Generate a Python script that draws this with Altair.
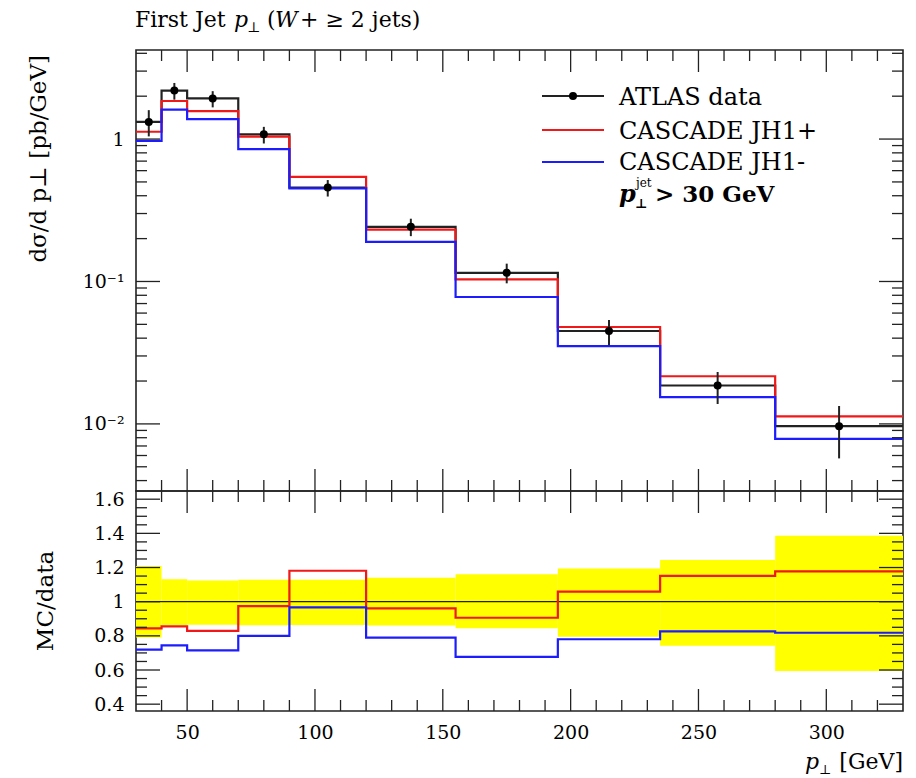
import altair as alt
import pandas as pd

# ---------------- data ----------------
edges = [30, 40, 50, 70, 90, 120, 155, 195, 235, 280, 330]
atlas = [1.32, 2.19, 1.93, 1.08, 0.457, 0.242, 0.115, 0.0449, 0.0186, 0.00964]
jh1_plus = [1.125, 1.85, 1.57, 1.04, 0.543, 0.231, 0.1036, 0.0479, 0.0216, 0.0113]
jh1_minus = [0.97, 1.61, 1.38, 0.85, 0.45, 0.19, 0.0778, 0.0352, 0.0154, 0.00784]
ratio_plus = [0.844, 0.856, 0.829, 0.974, 1.181, 0.961, 0.906, 1.059, 1.151, 1.177]
ratio_minus = [0.719, 0.744, 0.715, 0.80, 0.967, 0.79, 0.677, 0.78, 0.826, 0.818]
band_up = [1.209, 1.131, 1.124, 1.128, 1.128, 1.14, 1.16, 1.195, 1.244, 1.386]
band_down = [0.791, 0.863, 0.865, 0.862, 0.864, 0.86, 0.844, 0.795, 0.742, 0.594]

x_major = [50, 100, 150, 200, 250, 300]
x_minor = [v for v in range(40, 330, 10) if v % 50]
y_up_major = [0.01, 0.1, 1]
y_up_minor = [m * 10.0 ** e for e in (-3, -2, -1, 0) for m in range(2, 10)
              if 0.0034 < m * 10.0 ** e < 4.2]
y_lo_major = [0.4, 0.6, 0.8, 1, 1.2, 1.4, 1.6]
y_lo_minor = [round(0.4 + 0.05 * i, 2) for i in range(25) if i % 4]

# ---------------- layout / style ----------------
W, H1, H2 = 767, 441, 220
FONT = "DejaVu Serif"
INK = "#222222"
RED = "#f01818"
BLUE = "#1c1cff"
YELLOW = "#ffff00"

xs = alt.Scale(domain=[30, 330], nice=False, zero=False)
ys_up = alt.Scale(type="log", domain=[0.00338, 4.22], nice=False)
ys_lo = alt.Scale(domain=[0.36, 1.648], nice=False, zero=False)

up_y_axis = alt.Axis(values=y_up_major, ticks=False, domain=False, grid=False, title=None,
                     labelExpr="datum.value > 0.5 ? '1' : (datum.value > 0.05 ? '10⁻¹' : '10⁻²')",
                     labelOverlap=False, labelFlush=False,
                     labelPadding=12, labelFont=FONT, labelFontSize=19, labelColor="black")
lo_y_axis = alt.Axis(values=y_lo_major, ticks=False, domain=False, grid=False, title=None,
                     labelExpr="datum.value == 1 ? '1' : format(datum.value, '.1f')",
                     labelOverlap=False, labelFlush=False,
                     labelPadding=12, labelFont=FONT, labelFontSize=19, labelColor="black")
lo_x_axis = alt.Axis(values=x_major, ticks=False, domain=False, grid=False, title=None,
                     format="d", labelOverlap=False, labelFlush=False,
                     labelPadding=12, labelFont=FONT, labelFontSize=19, labelColor="black")

one = pd.DataFrame({"k": [0]})
lo_e = edges[:-1]
hi_e = edges[1:]


def step_frame(vals):
    return pd.DataFrame({"x": edges, "y": list(vals) + [vals[-1]]})


def step_line(vals, color, yscale, yaxis, xaxis, width=2.2):
    return alt.Chart(step_frame(vals)).mark_line(
        interpolate="step-after", color=color, strokeWidth=width
    ).encode(
        x=alt.X("x:Q", scale=xs, axis=xaxis),
        y=alt.Y("y:Q", scale=yscale, axis=yaxis),
    )


def label(txt, x, y, size=24, align="left", baseline="alphabetic", style="normal",
          weight="normal", angle=0, color="black"):
    return alt.Chart(one).mark_text(
        text=txt, align=align, baseline=baseline, font=FONT, fontSize=size,
        fontStyle=style, fontWeight=weight, angle=angle, color=color
    ).encode(x=alt.value(x), y=alt.value(y))


def ticks(H, yscale, yaxis, xaxis, ymaj, ymin):
    layers = []
    for vals, ln in ((x_major, 22), (x_minor, 11)):
        base = alt.Chart(pd.DataFrame({"v": vals}))
        layers.append(base.mark_rule(color=INK, strokeWidth=1.3).encode(
            x=alt.X("v:Q", scale=xs, axis=xaxis), y=alt.value(0), y2=alt.value(ln)))
        layers.append(base.mark_rule(color=INK, strokeWidth=1.3).encode(
            x=alt.X("v:Q", scale=xs, axis=xaxis), y=alt.value(H), y2=alt.value(H - ln)))
    for vals, ln in ((ymaj, 24), (ymin, 11)):
        base = alt.Chart(pd.DataFrame({"v": vals}))
        layers.append(base.mark_rule(color=INK, strokeWidth=1.3).encode(
            y=alt.Y("v:Q", scale=yscale, axis=yaxis), x=alt.value(0), x2=alt.value(ln)))
        layers.append(base.mark_rule(color=INK, strokeWidth=1.3).encode(
            y=alt.Y("v:Q", scale=yscale, axis=yaxis), x=alt.value(W), x2=alt.value(W - ln)))
    return layers


# ---------------- upper panel ----------------
pts = pd.DataFrame({
    "c": [(a + b) / 2 for a, b in zip(lo_e, hi_e)],
    "v": atlas,
    "lo": [v * d for v, d in zip(atlas, band_down)],
    "hi": [v * u for v, u in zip(atlas, band_up)],
})

anchor = alt.Chart(one).mark_rule(color="white", strokeWidth=1).encode(
    x=alt.value(-134), x2=alt.value(-133), y=alt.value(-48))

black_h = step_line(atlas, INK, ys_up, up_y_axis, None)
red_h = step_line(jh1_plus, RED, ys_up, up_y_axis, None)
blue_h = step_line(jh1_minus, BLUE, ys_up, up_y_axis, None)
errs = alt.Chart(pts).mark_rule(color=INK, strokeWidth=2).encode(
    x=alt.X("c:Q", scale=xs, axis=None),
    y=alt.Y("lo:Q", scale=ys_up, axis=up_y_axis), y2="hi:Q")
dots = alt.Chart(pts).mark_circle(color="black", size=64, opacity=1).encode(
    x=alt.X("c:Q", scale=xs, axis=None),
    y=alt.Y("v:Q", scale=ys_up, axis=up_y_axis))

legend = [
    alt.Chart(one).mark_rule(color=INK, strokeWidth=2).encode(
        x=alt.value(406), x2=alt.value(468), y=alt.value(46)),
    alt.Chart(one).mark_circle(color="black", size=64, opacity=1).encode(
        x=alt.value(437), y=alt.value(46)),
    label("ATLAS data", 483, 55),
    alt.Chart(one).mark_rule(color=RED, strokeWidth=2.2).encode(
        x=alt.value(406), x2=alt.value(468), y=alt.value(80)),
    label("CASCADE JH1+", 483, 89),
    alt.Chart(one).mark_rule(color=BLUE, strokeWidth=2.2).encode(
        x=alt.value(406), x2=alt.value(468), y=alt.value(112)),
    label("CASCADE JH1-", 483, 120),
    label("p", 483, 152, size=24, style="italic", weight="bold"),
    label("jet", 500, 137, size=12),
    label("⊥", 499, 158, size=13, weight="bold"),
    label("> 30 GeV", 519, 152, size=23, weight="bold"),
]

titles_up = [
    label("First Jet", -1, -23, size=22),
    label("p", 98, -23, size=22, style="italic"),
    label("⊥", 111, -18, size=14),
    label("(", 131, -23, size=22),
    label("W", 139, -23, size=22, style="italic"),
    label("+ ≥ 2 jets)", 164, -23, size=22),
    label("dσ/d p⊥ [pb/GeV]", -97, 5, size=23, align="right", baseline="middle", angle=270),
]

upper = alt.layer(
    anchor, black_h, red_h, blue_h, errs, dots,
    *ticks(H1, ys_up, up_y_axis, None, y_up_major, y_up_minor),
    *legend, *titles_up,
).properties(width=W, height=H1)

# ---------------- lower (ratio) panel ----------------
band = pd.DataFrame({"lo": lo_e, "hi": hi_e, "dn": band_down, "up": band_up})
band_rect = alt.Chart(band).mark_rect(color=YELLOW, opacity=1).encode(
    x=alt.X("lo:Q", scale=xs, axis=lo_x_axis), x2="hi:Q",
    y=alt.Y("dn:Q", scale=ys_lo, axis=lo_y_axis), y2="up:Q")
unity = alt.Chart(one).mark_rule(color=INK, strokeWidth=1.3).encode(
    y=alt.YDatum(datum=1, type="quantitative", scale=ys_lo, axis=lo_y_axis),
    x=alt.value(0), x2=alt.value(W))
red_r = step_line(ratio_plus, RED, ys_lo, lo_y_axis, lo_x_axis)
blue_r = step_line(ratio_minus, BLUE, ys_lo, lo_y_axis, lo_x_axis)

titles_lo = [
    label("MC/data", -90, H2 / 2, size=23, align="center", baseline="middle", angle=270),
    label("p", W - 98, 278, size=22, style="italic"),
    label("⊥", W - 84, 283, size=13),
    label("[GeV]", W, 278, size=22, align="right"),
]

lower = alt.layer(
    band_rect, unity, red_r, blue_r,
    *ticks(H2, ys_lo, lo_y_axis, lo_x_axis, y_lo_major, y_lo_minor),
    *titles_lo,
).properties(width=W, height=H2)

chart = alt.vconcat(upper, lower, spacing=0, bounds="flush").properties(
    padding={"left": 0, "top": 0, "right": 5, "bottom": 5}
).configure_view(stroke=INK, strokeWidth=1.6).configure_axis(labelOverlap=False)

chart.save("out.html", embed_options={"renderer": "svg", "actions": False})
